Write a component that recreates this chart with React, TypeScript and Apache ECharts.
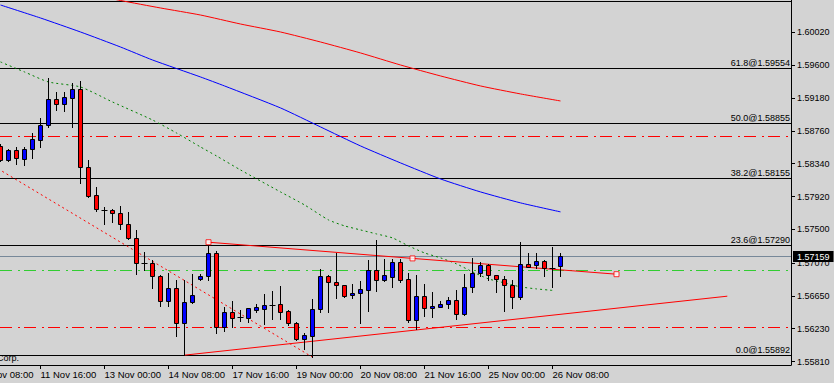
import React, { useEffect, useRef } from "react";
import * as echarts from "echarts";

// H4 bars, index 0 = 10 Nov 20:00 ... index 70 = 26 Nov 12:00
const opens = [
  1.58567, 1.58388, 1.58516, 1.58405, 1.58525, 1.58648, 1.58835, 1.59164, 1.591, 1.59184,
  1.59292, 1.58302, 1.57937, 1.57752, 1.57749, 1.57707, 1.57566, 1.57387, 1.57072, 1.57072,
  1.56902, 1.56582, 1.56748, 1.56301, 1.56569, 1.56871, 1.56902, 1.57196, 1.56257, 1.56441,
  1.56375, 1.56365, 1.56471, 1.5648, 1.56536, 1.56544, 1.56454, 1.56301, 1.56096, 1.56142,
  1.5648, 1.56905, 1.56825, 1.56787, 1.56659, 1.56684, 1.56723, 1.56978, 1.5685, 1.56889,
  1.5708, 1.56863, 1.56339, 1.56646, 1.56493, 1.56513, 1.56544, 1.56599, 1.56416, 1.56761,
  1.5694, 1.57042, 1.56914, 1.56863, 1.56794, 1.56641, 1.57055, 1.57042, 1.57093, 1.57008,
  1.57029,
];
const closes = [
  1.58388, 1.58516, 1.5841, 1.58525, 1.58653, 1.58835, 1.59164, 1.591, 1.59189, 1.59292,
  1.58302, 1.57928, 1.57758, 1.57749, 1.57707, 1.57566, 1.57387, 1.57068, 1.57068, 1.56902,
  1.56582, 1.56748, 1.56301, 1.56569, 1.56659, 1.56902, 1.57196, 1.56257, 1.56441, 1.56365,
  1.56378, 1.56493, 1.56509, 1.56531, 1.56539, 1.56449, 1.56301, 1.56096, 1.56151, 1.5648,
  1.56905, 1.56825, 1.56787, 1.56654, 1.56688, 1.56735, 1.56978, 1.5685, 1.56918, 1.5708,
  1.56854, 1.56347, 1.56646, 1.56493, 1.56518, 1.56544, 1.56595, 1.56416, 1.56761, 1.5694,
  1.57042, 1.56914, 1.56863, 1.56794, 1.56641, 1.57055, 1.57024, 1.57093, 1.57008, 1.57011,
  1.57159,
];
const highs = [
  1.58592, 1.58529, 1.5855, 1.58558, 1.58729, 1.58921, 1.59432, 1.59253, 1.59253, 1.59368,
  1.59398, 1.58388, 1.58043, 1.57791, 1.57766, 1.578, 1.57723, 1.5749, 1.57212, 1.57106,
  1.56918, 1.56948, 1.56854, 1.56854, 1.56927, 1.56927, 1.57302, 1.57221, 1.56505, 1.56586,
  1.56467, 1.56497, 1.56544, 1.56675, 1.56714, 1.56778, 1.56471, 1.56321, 1.56181, 1.56611,
  1.56991, 1.56922, 1.57196, 1.5679, 1.56799, 1.56842, 1.5711, 1.57366, 1.57119, 1.57119,
  1.57119, 1.56948, 1.56922, 1.56803, 1.56697, 1.56582, 1.56633, 1.56726, 1.56931, 1.57132,
  1.5708, 1.57059, 1.56918, 1.56909, 1.56854, 1.57336, 1.57199, 1.57199, 1.57114, 1.57272,
  1.57203,
];
const lows = [
  1.58375, 1.58375, 1.58341, 1.58328, 1.58414, 1.58554, 1.58806, 1.59031, 1.59018, 1.58814,
  1.58098, 1.57915, 1.5774, 1.57574, 1.576, 1.5751, 1.57378, 1.56927, 1.56982, 1.56756,
  1.56526, 1.56526, 1.56142, 1.55892, 1.56556, 1.56854, 1.56858, 1.56181, 1.56206, 1.56257,
  1.56334, 1.56314, 1.56445, 1.56292, 1.5636, 1.56352, 1.56275, 1.56087, 1.55969, 1.55864,
  1.56441, 1.56449, 1.56628, 1.56637, 1.56628, 1.56301, 1.56462, 1.56718, 1.56842, 1.56769,
  1.56829, 1.56321, 1.56224, 1.5639, 1.56378, 1.56513, 1.56496, 1.56352, 1.56407, 1.56705,
  1.56905, 1.5685, 1.56697, 1.56462, 1.565, 1.56608, 1.5702, 1.57004, 1.56909, 1.56769,
  1.56909,
];

// moving averages: [bar index, price]
const redMA = [
  [10, 1.60535], [15, 1.60427], [20, 1.60331], [25, 1.60241], [30, 1.60126], [35, 1.60024],
  [40, 1.59896], [45, 1.59756], [50, 1.59602], [55, 1.59462], [60, 1.59334], [65, 1.59232],
  [70, 1.59142],
];
const blueMA = [
  [0, 1.60369], [5, 1.60203], [10, 1.60024], [15, 1.59832], [19, 1.59666], [25, 1.59449],
  [28, 1.59334], [35, 1.59053], [40, 1.5881], [45, 1.58567], [50, 1.5835], [55, 1.58145],
  [60, 1.57979], [65, 1.57839], [70, 1.57724],
];
const greenMA = [
  [0, 1.59641], [3, 1.59513], [6, 1.59385], [10, 1.59321], [14, 1.59129], [19, 1.58899],
  [22, 1.58733], [25, 1.58554], [27, 1.58439], [30, 1.5826], [35, 1.57979], [38, 1.57813],
  [41, 1.57621], [43, 1.57545], [45, 1.57493], [47, 1.57442], [49, 1.57391], [51, 1.57289],
  [53, 1.57199], [55, 1.57136], [57, 1.57059], [59, 1.56957], [61, 1.56867], [63, 1.56816],
  [65, 1.56765], [67, 1.56739], [69, 1.5672],
];

// trend lines
const upperTrend = [[26, 1.57336], [51.5, 1.57129], [77.0, 1.56927]];
const lowerTrend = [[23, 1.55892], [90.85, 1.56646]];
const dottedTrend = [[-3, 1.5844], [39, 1.55866]];

// fibonacci levels
const fibLevels = [1.60418, 1.59554, 1.58855, 1.58155, 1.5729, 1.55892];
const fibLabels = ["", "61.8@1.59554", "50.0@1.58855", "38.2@1.58155", "23.6@1.57290", "0.0@1.55892"];
const redLevels = [1.58682, 1.56241];
const greenLevels = [1.56969];
const lastPrice = 1.57159;

// axes
const yTicks = [1.5581, 1.5623, 1.5665, 1.5707, 1.575, 1.5792, 1.5834, 1.5876, 1.5918, 1.596, 1.6002];
const xTickIndex = [-3, 5, 13, 21, 29, 37, 45, 53, 61, 69];
const xTickLabels = [
  "10 Nov 08:00", "11 Nov 16:00", "13 Nov 00:00", "14 Nov 08:00", "17 Nov 16:00",
  "19 Nov 00:00", "20 Nov 08:00", "21 Nov 16:00", "25 Nov 00:00", "26 Nov 08:00",
];

const FONT = "'Liberation Sans', Arial, sans-serif";
const X_MIN = -0.0625;
const X_MAX = 98.8125;

export default function App() {
  const ref = useRef<HTMLDivElement>(null);
  useEffect(() => {
    if (!ref.current) return;
    const chart = echarts.init(ref.current, null, { renderer: "svg" });
    const candles = opens.map((o, i) => [i, o, closes[i], lows[i], highs[i]]);
    const visibleTicks = xTickIndex.filter((v) => v >= X_MIN);

    // horizontal level objects: value, stroke, dash, label, kind
    type Level = { v: number; stroke: string; dash: number[] | null; label: string; kind: string };
    const levels: Level[] = [];
    fibLevels.forEach((v, k) => levels.push({ v, stroke: "#000", dash: null, label: fibLabels[k], kind: "fib" }));
    redLevels.forEach((v) => levels.push({ v, stroke: "#ff0000", dash: [12, 6, 2, 4], label: "", kind: "h" }));
    greenLevels.forEach((v) => levels.push({ v, stroke: "#32cd32", dash: [12, 6, 2, 4], label: "", kind: "h" }));
    levels.push({ v: lastPrice, stroke: "#778899", dash: null, label: lastPrice.toFixed(5), kind: "price" });

    const plotWidth = 834 - 43;
    const xOfIndex = (idx: number) => ((idx - X_MIN) / (X_MAX - X_MIN)) * plotWidth;

    const option: any = {
      animation: false,
      backgroundColor: "#d3d3d3",
      textStyle: { fontFamily: FONT },
      grid: { left: 0, right: 43, top: 0, bottom: 18 },
      xAxis: {
        type: "value",
        min: X_MIN,
        max: X_MAX,
        axisLine: { show: true, onZero: false, lineStyle: { color: "#000", width: 1 } },
        axisTick: { show: true, customValues: visibleTicks, length: 4, lineStyle: { color: "#000" } },
        axisLabel: {
          customValues: visibleTicks,
          formatter: (v: number) => {
            const k = xTickIndex.indexOf(v);
            return k >= 0 ? xTickLabels[k] : "";
          },
          align: "left",
          color: "#000",
          fontSize: 9.5,
          fontFamily: FONT,
          margin: 4,
        },
        splitLine: { show: false },
      },
      yAxis: {
        type: "value",
        position: "right",
        min: 1.55766,
        max: 1.60433,
        axisLine: { show: true, onZero: false, lineStyle: { color: "#000", width: 1 } },
        axisTick: { show: true, customValues: yTicks, length: 4, lineStyle: { color: "#000" } },
        axisLabel: {
          customValues: yTicks,
          formatter: (v: number) => v.toFixed(5),
          color: "#000",
          fontSize: 9,
          fontFamily: FONT,
          margin: 6,
        },
        splitLine: { show: false },
      },
      graphic: [
        {
          type: "text",
          x: 19,
          y: 358,
          style: {
            text: "MetaQuotes Software Corp.",
            align: "right",
            verticalAlign: "middle",
            fill: "#000",
            font: `9px ${FONT}`,
          },
          z: 1,
        },
        {
          type: "text",
          x: xOfIndex(xTickIndex[0]) + 0.5,
          y: 369,
          style: {
            text: xTickLabels[0],
            align: "left",
            verticalAlign: "top",
            fill: "#000",
            font: `9.5px ${FONT}`,
          },
          z: 1,
        },
      ],
      series: [
        {
          type: "custom",
          data: levels.map((l) => [X_MIN, l.v]),
          encode: { x: 0, y: 1 },
          silent: true,
          z: 1,
          renderItem: (params: any, api: any) => {
            const lv = levels[params.dataIndex];
            const cs = params.coordSys;
            const y = Math.round(api.coord([X_MIN, lv.v])[1] - 0.5) + 0.5;
            const x0 = cs.x;
            const x1 = cs.x + cs.width;
            const children: any[] = [
              {
                type: "line",
                shape: { x1: x0, y1: y, x2: x1, y2: y },
                style: { stroke: lv.stroke, lineWidth: 1, lineDash: lv.dash || undefined },
              },
            ];
            if (lv.kind === "fib" && lv.label) {
              children.push({
                type: "text",
                x: x1 - 1,
                y: y - 1.5,
                style: {
                  text: lv.label,
                  align: "right",
                  verticalAlign: "bottom",
                  fill: "#000",
                  font: `9px ${FONT}`,
                },
              });
            }
            if (lv.kind === "price") {
              children.push({
                type: "text",
                x: x1 + 2,
                y: y,
                style: {
                  text: lv.label,
                  align: "left",
                  verticalAlign: "middle",
                  fill: "#fff",
                  backgroundColor: "#000",
                  padding: [1, 4, 1, 4],
                  font: `9px ${FONT}`,
                },
              });
            }
            return { type: "group", children };
          },
        },
        {
          type: "line",
          data: redMA,
          showSymbol: false,
          smooth: 0.2,
          lineStyle: { color: "#ff0000", width: 1 },
          silent: true,
          z: 2,
        },
        {
          type: "line",
          data: blueMA,
          showSymbol: false,
          smooth: 0.2,
          lineStyle: { color: "#0000ff", width: 1 },
          silent: true,
          z: 2,
        },
        {
          type: "line",
          data: greenMA,
          showSymbol: false,
          smooth: 0.2,
          lineStyle: { color: "#008000", width: 1, type: [2, 3] },
          silent: true,
          z: 2,
        },
        {
          type: "line",
          data: dottedTrend,
          showSymbol: false,
          lineStyle: { color: "#ff0000", width: 1, type: [2, 3] },
          silent: true,
          z: 2,
        },
        {
          type: "line",
          data: lowerTrend,
          showSymbol: false,
          lineStyle: { color: "#ff0000", width: 1 },
          silent: true,
          z: 2,
        },
        {
          type: "line",
          data: upperTrend,
          showSymbol: false,
          lineStyle: { color: "#ff0000", width: 1 },
          silent: true,
          z: 2,
        },
        {
          type: "custom",
          data: candles,
          encode: { x: 0, y: [1, 2, 3, 4] },
          silent: true,
          z: 3,
          renderItem: (params: any, api: any) => {
            const i = api.value(0);
            const o = api.value(1);
            const c = api.value(2);
            const l = api.value(3);
            const h = api.value(4);
            const pO = api.coord([i, o]);
            const pC = api.coord([i, c]);
            const pL = api.coord([i, l]);
            const pH = api.coord([i, h]);
            const cx = Math.floor(pO[0]) + 0.5;
            const children: any[] = [
              {
                type: "line",
                shape: { x1: cx, y1: Math.round(pH[1]), x2: cx, y2: Math.round(pL[1]) + 1 },
                style: { stroke: "#000", lineWidth: 1 },
              },
            ];
            const top = Math.min(pO[1], pC[1]);
            const bot = Math.max(pO[1], pC[1]);
            if (bot - top < 0.8) {
              const yy = Math.round(top) + 0.5;
              children.push({
                type: "line",
                shape: { x1: cx - 3, y1: yy, x2: cx + 3, y2: yy },
                style: { stroke: "#000", lineWidth: 1 },
              });
            } else {
              const t = Math.round(top) + 0.5;
              const b = Math.max(Math.round(bot) + 0.5, t + 1);
              children.push({
                type: "rect",
                shape: { x: cx - 2, y: t, width: 4, height: b - t },
                style: { fill: c > o ? "#0000ff" : "#ff0000", stroke: "#000", lineWidth: 1 },
              });
            }
            return { type: "group", children };
          },
        },
        {
          type: "scatter",
          data: upperTrend,
          symbol: "rect",
          symbolSize: 5,
          itemStyle: { color: "#ffffff", borderColor: "#ff0000", borderWidth: 1 },
          silent: true,
          z: 4,
        },
      ],
    };
    chart.setOption(option);
    return () => chart.dispose();
  }, []);
  return (
    <div
      ref={ref}
      style={{ position: "absolute", left: 0, top: 0, width: 834, height: 383 }}
    />
  );
}
